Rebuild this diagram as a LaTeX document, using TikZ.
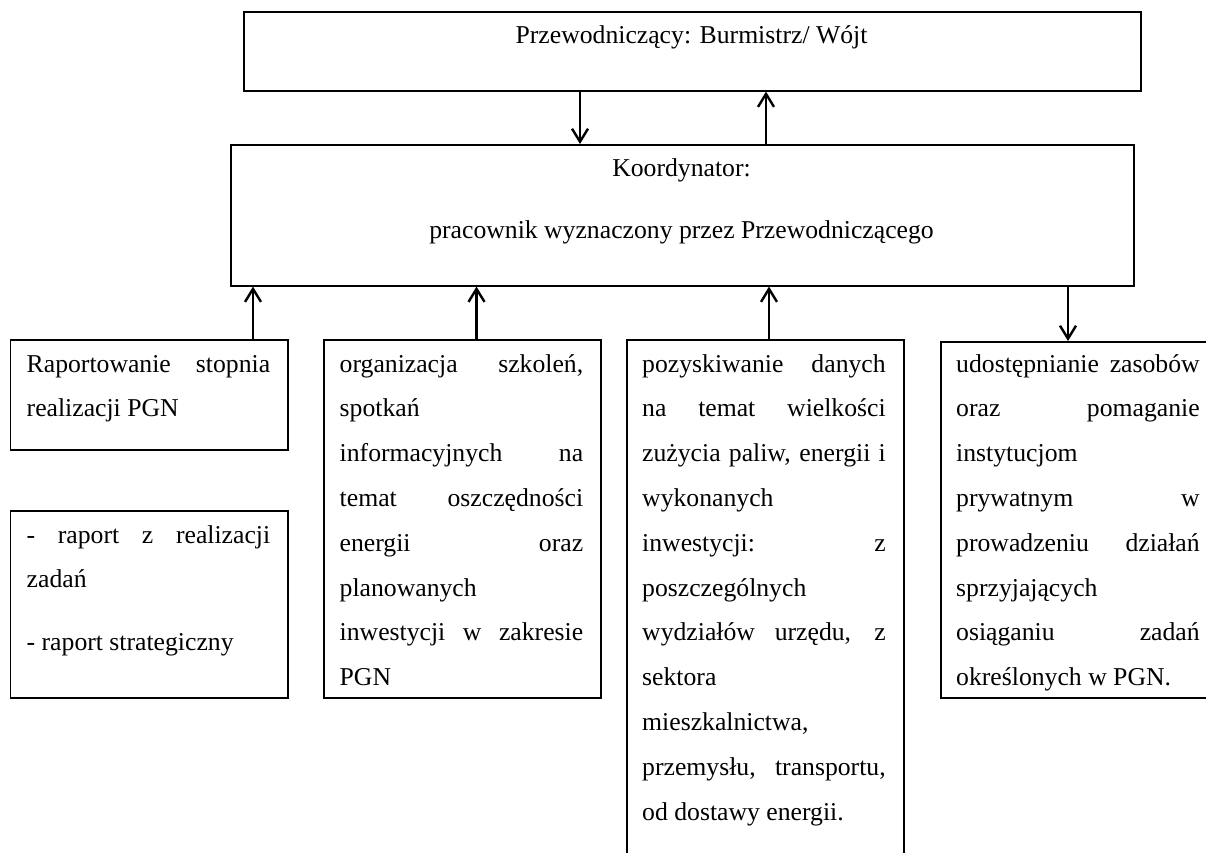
\documentclass[tikz,border=0pt]{standalone}
\usepackage{fontspec}
\setmainfont{Liberation Serif}
\usetikzlibrary{arrows.meta}
\newlength\tw
\setlength\tw{243.5pt}
\newcommand\jline[1]{\makebox[\tw][s]{#1}\par}
\newcommand\lline[1]{\makebox[\tw][l]{#1}\par}
\newcommand\boxtext[1]{\parbox[t]{\tw}{\fontsize{25.7pt}{44.8pt}\selectfont\parindent=0pt\parskip=0pt #1}}
\tikzset{
  frame/.style={draw=black, line width=1.6pt, rectangle, inner sep=0pt, anchor=north west},
  txt/.style={inner sep=0pt, anchor=base west},
  ctxt/.style={inner sep=0pt, anchor=base, font=\fontsize{25.7pt}{44.8pt}\selectfont},
  arr/.style={line width=2.4pt, -{Straight Barb[length=13pt,width=16pt]}}
}
\begin{document}
\begin{tikzpicture}[x=1pt,y=-1pt]
\useasboundingbox (0,0) rectangle (1206,853);
\clip (0,0) rectangle (1206,853);
\fill[white] (0,0) rectangle (1206,853);

% main boxes
\node[frame, minimum width=897pt, minimum height=78.5pt] (top) at (243,11.5) {};
\node[frame, minimum width=903pt, minimum height=141pt] (koord) at (230,144) {};
\node[ctxt] (ttop) at (691.5,44) {Przewodniczący: Burmistrz/ Wójt};
\node[ctxt] (tk1) at (681.5,177) {Koordynator:};
\node[ctxt] (tk2) at (681.5,238) {pracownik wyznaczony przez Przewodniczącego};

% lower boxes
\node[frame, minimum width=277.5pt, minimum height=110pt] (b1) at (9.5,339) {};
\node[frame, minimum width=277.5pt, minimum height=187pt] (b1b) at (9.5,510) {};
\node[frame, minimum width=277pt, minimum height=358pt] (b2) at (323,339) {};
\node[frame, minimum width=277pt, minimum height=561pt] (b3) at (626,339) {};
\node[frame, minimum width=277pt, minimum height=356pt] (b4) at (940,341) {};

\node[txt] (t1) at (26.5,372) {\boxtext{%
  \jline{Raportowanie stopnia}
  \lline{realizacji PGN}}};
\node[txt] (t1b) at (26.5,543) {\boxtext{%
  \jline{- raport z realizacji}
  \lline{zadań}
  \vspace{18pt}
  \lline{- raport strategiczny}}};
\node[txt] (t2) at (339.5,372) {\boxtext{%
  \jline{organizacja szkoleń,}
  \lline{spotkań}
  \jline{informacyjnych na}
  \jline{temat oszczędności}
  \jline{energii oraz}
  \lline{planowanych}
  \jline{inwestycji w zakresie}
  \lline{PGN}}};
\node[txt] (t3) at (642,372) {\boxtext{%
  \jline{pozyskiwanie danych}
  \jline{na temat wielkości}
  \jline{zużycia paliw, energii i}
  \lline{wykonanych}
  \jline{inwestycji: z}
  \lline{poszczególnych}
  \jline{wydziałów urzędu, z}
  \lline{sektora}
  \lline{mieszkalnictwa,}
  \jline{przemysłu, transportu,}
  \lline{od dostawy energii.}}};
\node[txt] (t4) at (956,372) {\boxtext{%
  \jline{udostępnianie zasobów}
  \jline{oraz pomaganie}
  \lline{instytucjom}
  \jline{prywatnym w}
  \jline{prowadzeniu działań}
  \lline{sprzyjających}
  \jline{osiąganiu zadań}
  \lline{określonych w PGN.}}};

% arrow x positions
\coordinate (xa) at (580,0);
\coordinate (xb) at (766,0);
\coordinate (x1) at (253,0);
\coordinate (x2) at (476.5,0);
\coordinate (x3) at (769,0);
\coordinate (x4) at (1068,0);

\draw[arr] (xa |- top.south) -- (xa |- koord.north);
\draw[arr] (xb |- koord.north) -- (xb |- top.south);
\draw[arr] (x1 |- b1.north) -- (x1 |- koord.south);
\draw[arr] (x2 |- b2.north) -- (x2 |- koord.south);
\draw[arr] (x3 |- b3.north) -- (x3 |- koord.south);
\draw[arr] (x4 |- koord.south) -- (x4 |- b4.north);
\end{tikzpicture}
\end{document}
